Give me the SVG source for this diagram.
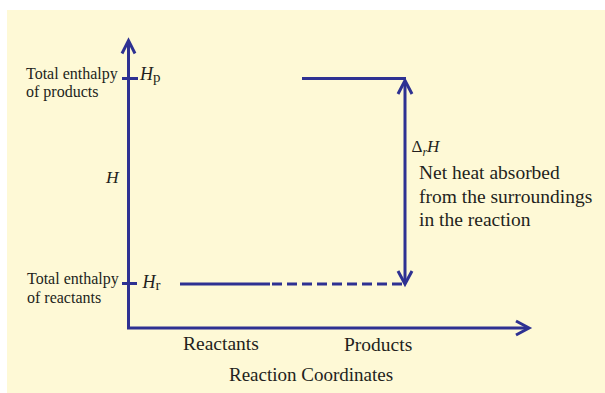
<svg xmlns="http://www.w3.org/2000/svg" width="605" height="393" viewBox="0 0 605 393">
  <style>
    .ln { stroke: #2E3192; stroke-width: 3; fill: none; }
    .hd { stroke: #2E3192; stroke-width: 3; fill: none; stroke-linejoin: miter; stroke-linecap: butt; }
    .t { font-family: "Liberation Serif", "Times New Roman", serif; fill: #231F20; }
    .it { font-style: italic; }
  </style>
  <rect x="7" y="10" width="598" height="383" fill="#FEF9D6"/>
  <g id="connectors">
    <!-- y axis -->
    <path class="ln" d="M128.5,328 V41"/>
    <path class="hd" d="M122,53.5 L128.5,40.5 L135,53.5"/>
    <!-- x axis -->
    <path class="ln" d="M127,328 H528"/>
    <path class="hd" d="M516,321 L529,328 L516,335"/>
    <!-- ticks -->
    <path class="ln" d="M122,78.5 H138"/>
    <path class="ln" d="M122,283.5 H137"/>
    <!-- delta H double arrow -->
    <path class="ln" d="M405,81 V282"/>
    <path class="hd" d="M398,94 L405,80.5 L412,94"/>
    <path class="hd" d="M398,271 L405,284 L412,271"/>
  </g>
  <g id="level-products">
    <path class="ln" d="M302,78.5 H406"/>
  </g>
  <g id="level-reactants">
    <path class="ln" d="M180,284 H270"/>
    <path class="ln" d="M272,284 H405" stroke-dasharray="10 5"/>
  </g>
  <g id="label-products-enthalpy">
    <text class="t" x="26" y="79" font-size="16">Total enthalpy</text>
    <text class="t" x="26" y="97" font-size="16">of products</text>
    <text class="t" x="140" y="80" font-size="18"><tspan class="it">H</tspan><tspan font-size="15" dy="1.5">p</tspan></text>
  </g>
  <g id="label-reactants-enthalpy">
    <text class="t" x="27" y="283.5" font-size="16">Total enthalpy</text>
    <text class="t" x="27" y="303" font-size="16">of reactants</text>
    <text class="t" x="142.5" y="287.5" font-size="18"><tspan class="it">H</tspan><tspan font-size="15" dy="2.5">r</tspan></text>
  </g>
  <g id="label-axis-H">
    <text class="t it" x="106" y="183" font-size="17.5">H</text>
  </g>
  <g id="label-deltaH">
    <text class="t" x="411.5" y="152" font-size="17">Δ<tspan class="it" font-size="12" dy="3.5">r</tspan><tspan class="it" dy="-3.5">H</tspan></text>
    <text class="t" x="419" y="179" font-size="19.5">Net heat absorbed</text>
    <text class="t" x="419" y="203" font-size="19.5">from the surroundings</text>
    <text class="t" x="419" y="226" font-size="19.5">in the reaction</text>
  </g>
  <g id="label-x-axis">
    <text class="t" x="183" y="350" font-size="19.5">Reactants</text>
    <text class="t" x="344" y="351" font-size="19.5">Products</text>
    <text class="t" x="229" y="381" font-size="19">Reaction Coordinates</text>
  </g>
</svg>
